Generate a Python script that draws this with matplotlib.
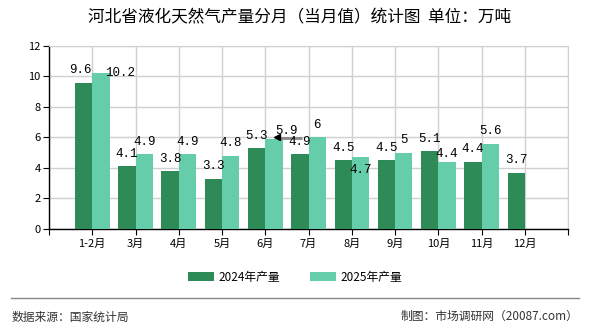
import matplotlib.pyplot as plt
import numpy as np
from matplotlib.patches import Rectangle
from matplotlib.lines import Line2D

plt.rcParams['font.family'] = ['Noto Sans CJK SC', 'DejaVu Sans']

months = ["1-2月", "3月", "4月", "5月", "6月", "7月", "8月", "9月", "10月", "11月", "12月"]
prod_2024 = [9.6, 4.1, 3.8, 3.3, 5.3, 4.9, 4.5, 4.5, 5.1, 4.4, 3.7]
prod_2025 = [10.2, 4.9, 4.9, 4.8, 5.9, 6.0, 4.7, 5.0, 4.4, 5.6, None]
labels_2024 = ["9.6", "4.1", "3.8", "3.3", "5.3", "4.9", "4.5", "4.5", "5.1", "4.4", "3.7"]
labels_2025 = ["10.2", "4.9", "4.9", "4.8", "5.9", "6", "4.7", "5", "4.4", "5.6", None]

c24 = "#2e8b57"
c25 = "#66cdaa"

fig = plt.figure(figsize=(5.9, 3.3), dpi=100)
ax = fig.add_axes([0.083, 0.306, 0.88, 0.555])

x = np.arange(1, len(months) + 1)
w = 0.4
ax.bar(x - w / 2, prod_2024, width=w, color=c24, zorder=3)
x25 = [xi for xi, v in zip(x, prod_2025) if v is not None]
v25 = [v for v in prod_2025 if v is not None]
ax.bar(np.array(x25) + w / 2, v25, width=w, color=c25, zorder=3)

lab_font = dict(family="Liberation Mono", fontsize=9, ha="center", va="center", zorder=5)
# value labels (offsets in points, some moved like in the source to avoid overlap)
off24 = {0: (-2, 9)}
for i, (v, t) in enumerate(zip(prod_2024, labels_2024)):
    dx, dy = off24.get(i, (0, 9))
    ax.annotate(t, (x[i] - w / 2, v), xytext=(dx, dy), textcoords="offset points", **lab_font)
off25 = {0: (14, 0), 4: (9, 6), 6: (0, -9), 8: (0, 6)}
for i, (v, t) in enumerate(zip(prod_2025, labels_2025)):
    if v is None:
        continue
    dx, dy = off25.get(i, (0, 9))
    ax.annotate(t, (x[i] + w / 2, v), xytext=(dx, dy), textcoords="offset points", **lab_font)

# leader line for the moved 6月 2025 label
y6 = prod_2025[4]
ax.plot([x[4] + w / 2 + 0.15, x[4] + 0.85], [y6 + 0.08, y6 + 0.08], color="#888888", lw=2,
        zorder=4, solid_capstyle="butt")
ax.plot([x[4] + w / 2 + 0.07], [y6 + 0.1], marker="<", color="black", ms=5, zorder=4)

ax.set_xlim(0, 12)
ax.set_ylim(0, 12)
ax.set_yticks(np.arange(0, 13, 2))
ax.set_xticks(np.arange(0, 13))
ax.set_xticklabels([""] + months + [""])
ax.grid(True, color="#d0d0d0", lw=1, zorder=0)
ax.tick_params(axis="both", labelsize=8, length=4, color="black", pad=2)
ax.tick_params(axis="x", pad=3)
for s in ["top", "right"]:
    ax.spines[s].set_color("#d0d0d0")
for s in ["left", "bottom"]:
    ax.spines[s].set_color("black")
    ax.spines[s].set_linewidth(1)

fig.text(0.507, 0.945, "河北省液化天然气产量分月（当月值）统计图  单位：万吨",
         ha="center", va="center", fontsize=12)

handles = [Rectangle((0, 0), 1, 1, fc=c24), Rectangle((0, 0), 1, 1, fc=c25)]
fig.legend(handles, ["2024年产量", "2025年产量"], loc="center", bbox_to_anchor=(0.5, 0.16),
           ncol=2, frameon=False, fontsize=8.5, handlelength=2.2, handleheight=0.8,
           columnspacing=2.5, handletextpad=0.4)

fig.add_artist(Line2D([0.018, 0.982], [0.097, 0.097], color="#888888", lw=1))
fig.text(0.02, 0.04, "数据来源：国家统计局", ha="left", va="center", fontsize=8.5, color="#333333")
fig.text(0.98, 0.04, "制图：市场调研网（20087.com）", ha="right", va="center",
         fontsize=8.5, color="#333333")

fig.savefig("out.png", dpi=100)
